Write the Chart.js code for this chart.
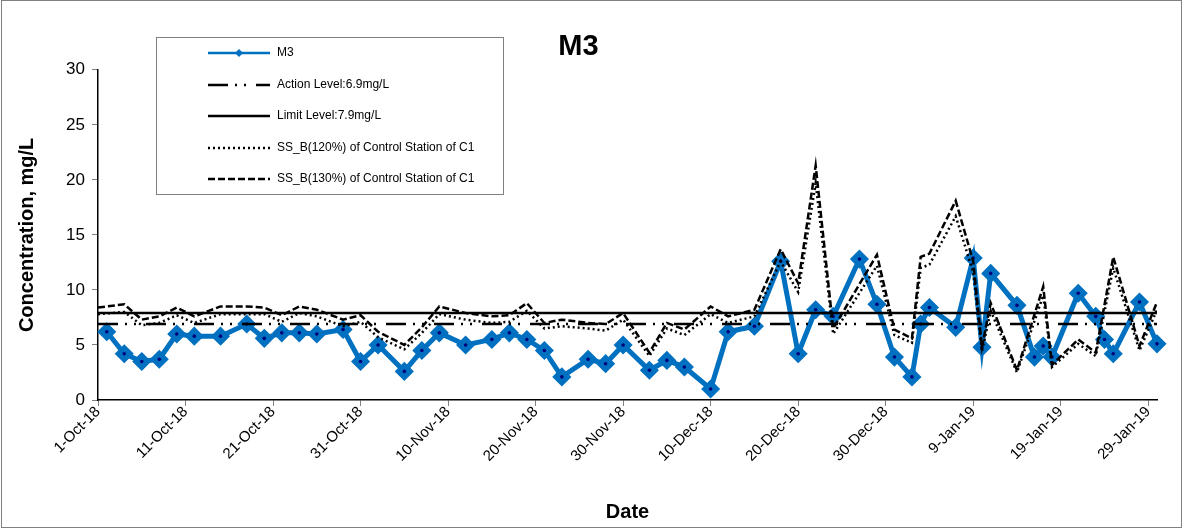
<!DOCTYPE html>
<html>
<head>
<meta charset="utf-8">
<script src="https://cdn.jsdelivr.net/npm/chart.js@4"></script>
<style>
  html, body { margin: 0; padding: 0; background: #fff; }
  #wrap { width: 1184px; height: 529px; }
</style>
</head>
<body>
<div id="wrap"><canvas id="chart" width="1184" height="529"></canvas></div>
<script>
// M3 suspended solids readings
const m3Dates = ['2-Oct-18','4-Oct-18','6-Oct-18','8-Oct-18','10-Oct-18','12-Oct-18','15-Oct-18','18-Oct-18','20-Oct-18','22-Oct-18','24-Oct-18','26-Oct-18','29-Oct-18','31-Oct-18',
  '2-Nov-18','5-Nov-18','7-Nov-18','9-Nov-18','12-Nov-18','15-Nov-18','17-Nov-18','19-Nov-18','21-Nov-18','23-Nov-18','26-Nov-18','28-Nov-18','30-Nov-18',
  '3-Dec-18','5-Dec-18','7-Dec-18','10-Dec-18','12-Dec-18','15-Dec-18','18-Dec-18','20-Dec-18','22-Dec-18','24-Dec-18','27-Dec-18','29-Dec-18','31-Dec-18',
  '2-Jan-19','3-Jan-19','4-Jan-19','7-Jan-19','9-Jan-19','10-Jan-19','11-Jan-19','14-Jan-19','16-Jan-19','17-Jan-19','18-Jan-19','21-Jan-19','23-Jan-19','24-Jan-19','25-Jan-19','28-Jan-19','30-Jan-19'];
const m3Values = [6.2,4.2,3.5,3.7,6.0,5.8,5.8,6.9,5.6,6.1,6.1,6.0,6.4,3.5,
  5.0,2.6,4.5,6.1,5.0,5.5,6.1,5.5,4.5,2.1,3.7,3.3,5.0,
  2.7,3.6,3.0,1.0,6.2,6.7,12.6,4.2,8.2,7.6,12.8,8.7,3.9,
  2.1,6.9,8.4,6.6,12.9,4.8,11.5,8.6,3.9,4.9,3.9,9.7,7.6,5.5,4.2,8.9,5.1];

// control station C1 based levels
const ssDates = ['1-Oct-18','4-Oct-18','6-Oct-18','8-Oct-18','10-Oct-18','12-Oct-18','15-Oct-18','18-Oct-18','20-Oct-18','22-Oct-18','24-Oct-18','26-Oct-18','29-Oct-18','31-Oct-18',
  '2-Nov-18','5-Nov-18','7-Nov-18','9-Nov-18','12-Nov-18','15-Nov-18','17-Nov-18','19-Nov-18','21-Nov-18','23-Nov-18','26-Nov-18','28-Nov-18','30-Nov-18',
  '3-Dec-18','5-Dec-18','7-Dec-18','10-Dec-18','12-Dec-18','15-Dec-18','18-Dec-18','20-Dec-18','22-Dec-18','24-Dec-18','29-Dec-18','31-Dec-18',
  '2-Jan-19','3-Jan-19','4-Jan-19','7-Jan-19','9-Jan-19','10-Jan-19','11-Jan-19','14-Jan-19','17-Jan-19','18-Jan-19','21-Jan-19','23-Jan-19','25-Jan-19','28-Jan-19','30-Jan-19'];
const ss120Values = [7.8,8.0,6.8,7.0,7.7,7.0,7.8,7.8,7.8,7.1,7.9,7.6,6.7,7.1,
  5.7,4.6,6.1,7.8,7.3,7.0,7.1,8.1,6.5,6.7,6.5,6.3,7.3,
  4.0,6.5,5.9,7.8,7.0,7.6,12.6,9.8,19.7,6.0,12.2,5.9,
  5.2,12.0,12.3,16.7,11.6,4.4,8.1,2.5,9.5,3.0,5.1,4.0,12.0,4.5,8.2];
const ss130Values = [8.4,8.7,7.3,7.6,8.4,7.6,8.5,8.5,8.4,7.7,8.5,8.2,7.3,7.7,
  6.2,5.0,6.6,8.5,7.9,7.6,7.7,8.8,7.0,7.3,7.0,6.9,7.9,
  4.3,7.0,6.4,8.5,7.6,8.2,13.7,10.6,21.3,6.5,13.2,6.4,
  5.6,13.0,13.3,18.1,12.6,4.8,8.8,2.7,10.3,3.2,5.5,4.3,13.0,4.9,8.9];

const levelDates = ['1-Oct-18', '30-Jan-19'];
const actionLevel = [6.9, 6.9];
const limitLevel = [7.9, 7.9];

const xTickDates = ['1-Oct-18','11-Oct-18','21-Oct-18','31-Oct-18','10-Nov-18','20-Nov-18','30-Nov-18','10-Dec-18','20-Dec-18','30-Dec-18','9-Jan-19','19-Jan-19','29-Jan-19'];
const yTicks = [0, 5, 10, 15, 20, 25, 30];

const MONTHS = ['Jan','Feb','Mar','Apr','May','Jun','Jul','Aug','Sep','Oct','Nov','Dec'];
const START = Date.UTC(2018, 9, 1);
function dayOf(s) {
  const p = s.split('-');
  return Math.round((Date.UTC(2000 + +p[2], MONTHS.indexOf(p[1]), +p[0]) - START) / 86400000);
}
function pts(dates, vals) {
  return dates.map((d, i) => ({ x: dayOf(d), y: vals[i] }));
}

const FONT = "'Liberation Sans', Arial, sans-serif";
Chart.defaults.font.family = FONT;
Chart.defaults.color = '#000';

const BLUE = '#0070C0';

// legend box drawn inside the plot like the spreadsheet one
const boxLegend = {
  id: 'boxLegend',
  afterDraw(chart) {
    const ctx = chart.ctx;
    ctx.save();
    ctx.fillStyle = '#fff';
    ctx.fillRect(156, 37, 348, 158);
    ctx.strokeStyle = '#808080';
    ctx.lineWidth = 1;
    ctx.strokeRect(156.5, 37.5, 347, 157);
    const rows = [53, 85, 116, 148, 179];
    const items = chart.data.datasets.filter(ds => !ds.hideInLegend);
    items.forEach((ds, i) => {
      const y = rows[i];
      ctx.beginPath();
      ctx.strokeStyle = ds.borderColor;
      ctx.lineWidth = Math.min(ds.borderWidth, 2.5);
      ctx.setLineDash(ds.borderDash || []);
      ctx.moveTo(208, y);
      ctx.lineTo(270, y);
      ctx.stroke();
      ctx.setLineDash([]);
      if (ds.pointRadius > 0) {
        ctx.fillStyle = ds.pointBackgroundColor;
        ctx.beginPath();
        ctx.moveTo(239, y - 4); ctx.lineTo(243, y); ctx.lineTo(239, y + 4); ctx.lineTo(235, y);
        ctx.closePath();
        ctx.fill();
      }
      ctx.fillStyle = '#000';
      ctx.font = '12px ' + FONT;
      ctx.textBaseline = 'middle';
      ctx.fillText(ds.label, 277, y);
    });
    ctx.restore();
  }
};

const frame = {
  id: 'frame',
  beforeDraw(chart) {
    const ctx = chart.ctx;
    ctx.save();
    ctx.fillStyle = '#fff';
    ctx.fillRect(0, 0, chart.width, chart.height);
    ctx.strokeStyle = '#808080';
    ctx.lineWidth = 1;
    ctx.strokeRect(1.5, 0.5, 1180, 527);
    ctx.restore();
  }
};

new Chart(document.getElementById('chart'), {
  type: 'line',
  data: {
    datasets: [
      {
        label: 'M3',
        data: pts(m3Dates, m3Values),
        borderColor: BLUE,
        borderWidth: 5,
        pointStyle: 'rectRot',
        pointRadius: 8.5,
        pointBackgroundColor: BLUE,
        pointBorderColor: BLUE,
        pointBorderWidth: 1.5,
        clip: false,
        order: 10
      },
      {
        label: 'M3 centre',
        hideInLegend: true,
        data: pts(m3Dates, m3Values),
        showLine: false,
        pointRadius: 1.8,
        pointBackgroundColor: '#00007a',
        pointBorderWidth: 0,
        clip: false,
        order: 9
      },
      {
        label: 'Action Level:6.9mg/L',
        data: pts(levelDates, actionLevel),
        borderColor: '#000',
        borderWidth: 2.5,
        borderDash: [20, 7, 2, 7, 2, 10],
        pointRadius: 0,
        order: 4
      },
      {
        label: 'Limit Level:7.9mg/L',
        data: pts(levelDates, limitLevel),
        borderColor: '#000',
        borderWidth: 2.5,
        pointRadius: 0,
        order: 3
      },
      {
        label: 'SS_B(120%) of Control Station of C1',
        data: pts(ssDates, ss120Values),
        borderColor: '#000',
        borderWidth: 2.5,
        borderDash: [2, 3],
        pointRadius: 0,
        order: 2
      },
      {
        label: 'SS_B(130%) of Control Station of C1',
        data: pts(ssDates, ss130Values),
        borderColor: '#000',
        borderWidth: 2.5,
        borderDash: [7, 3],
        pointRadius: 0,
        order: 1
      }
    ]
  },
  options: {
    responsive: false,
    animation: false,
    layout: { padding: { left: 0, right: 27, top: 0, bottom: 0 } },
    elements: { line: { tension: 0 } },
    plugins: {
      legend: { display: false },
      tooltip: { enabled: false },
      title: {
        display: true,
        text: 'M3',
        font: { size: 29, weight: 'bold' },
        color: '#000',
        padding: { top: 30, bottom: 5 }
      }
    },
    scales: {
      x: {
        type: 'linear',
        min: dayOf(levelDates[0]),
        max: dayOf(levelDates[1]),
        afterBuildTicks(scale) {
          scale.ticks = xTickDates.map(d => ({ value: dayOf(d) }));
        },
        afterFit(scale) { scale.height = 129; },
        ticks: {
          autoSkip: false,
          maxRotation: 45,
          minRotation: 45,
          padding: -3,
          font: { size: 15 },
          callback: (v) => xTickDates[xTickDates.map(dayOf).indexOf(v)] || ''
        },
        grid: { drawOnChartArea: false, tickLength: 6, color: '#808080' },
        border: { color: '#000', width: 1.5 },
        title: {
          display: true,
          text: 'Date',
          font: { size: 20, weight: 'bold' },
          padding: { top: 4, bottom: 5 }
        }
      },
      y: {
        min: 0,
        max: 30,
        afterBuildTicks(scale) {
          scale.ticks = yTicks.map(v => ({ value: v }));
        },
        afterFit(scale) { scale.width = 98; },
        ticks: { font: { size: 17 }, padding: 7 },
        grid: { drawOnChartArea: false, tickLength: 6, color: '#808080' },
        border: { color: '#000', width: 1.5 },
        title: {
          display: true,
          text: 'Concentration, mg/L',
          font: { size: 20, weight: 'bold' },
          padding: { top: 15, bottom: 0 }
        }
      }
    }
  },
  plugins: [frame, boxLegend]
});
</script>
</body>
</html>
